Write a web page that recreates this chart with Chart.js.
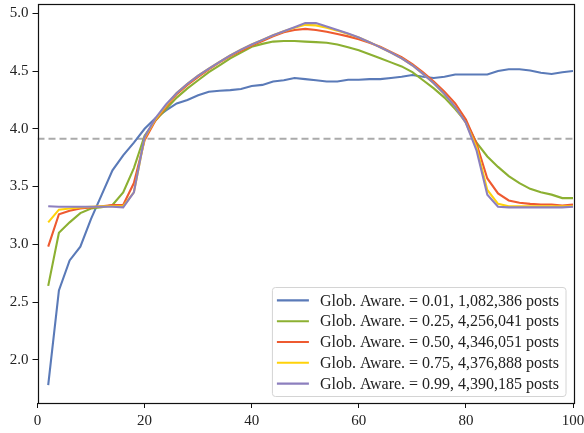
<!DOCTYPE html>
<html>
<head>
<meta charset="utf-8">
<script src="https://cdn.jsdelivr.net/npm/chart.js@4/dist/chart.umd.min.js"></script>
<style>
  html, body { margin: 0; padding: 0; background: #fff; }
  #wrap { width: 584px; height: 433px; position: relative; }
</style>
</head>
<body>
<div id="wrap"><canvas id="chart"></canvas></div>
<script>
// percent of thread (x)
const xs = [2,4,6,8,10,12,14,16,18,20,22,24,26,28,30,32,34,36,38,40,42,44,46,48,50,
            52,54,56,58,60,62,64,66,68,70,72,74,76,78,80,82,84,86,88,90,92,94,96,98,100]

const aware001 = [1.78,2.60,2.86,2.98,3.22,3.43,3.64,3.77,3.88,4.00,
                  4.09,4.16,4.22,4.25,4.29,4.32,4.33,4.335,4.345,4.37,
                  4.38,4.41,4.42,4.44,4.43,4.42,4.41,4.41,4.425,4.425,
                  4.43,4.43,4.44,4.45,4.465,4.45,4.44,4.45,4.47,4.47,
                  4.47,4.47,4.50,4.515,4.515,4.505,4.485,4.475,4.49,4.50]
const aware025 = [2.64,3.10,3.19,3.27,3.31,3.32,3.34,3.45,3.66,3.94,
                  4.07,4.17,4.27,4.35,4.42,4.49,4.55,4.61,4.66,4.71,
                  4.735,4.755,4.76,4.76,4.755,4.75,4.745,4.73,4.705,4.68,
                  4.645,4.61,4.575,4.54,4.49,4.42,4.35,4.27,4.17,4.06,
                  3.88,3.76,3.67,3.59,3.53,3.48,3.45,3.43,3.40,3.40]
const aware050 = [2.98,3.26,3.29,3.31,3.32,3.33,3.34,3.34,3.53,3.90,
                  4.07,4.19,4.30,4.38,4.45,4.515,4.575,4.63,4.675,4.72,
                  4.76,4.80,4.835,4.855,4.865,4.855,4.84,4.82,4.80,4.775,
                  4.745,4.71,4.665,4.62,4.56,4.49,4.41,4.32,4.22,4.08,
                  3.87,3.57,3.44,3.38,3.36,3.35,3.345,3.345,3.335,3.345]
const aware075 = [3.19,3.30,3.31,3.32,3.325,3.33,3.33,3.33,3.45,3.92,
                  4.08,4.20,4.31,4.39,4.46,4.52,4.58,4.635,4.685,4.73,
                  4.77,4.81,4.845,4.875,4.90,4.895,4.875,4.85,4.82,4.79,
                  4.75,4.705,4.66,4.61,4.55,4.475,4.395,4.30,4.19,4.05,
                  3.84,3.47,3.35,3.33,3.33,3.33,3.33,3.33,3.33,3.33]
const aware099 = [3.33,3.325,3.325,3.325,3.325,3.325,3.325,3.32,3.45,3.93,
                  4.09,4.21,4.31,4.39,4.46,4.52,4.58,4.635,4.685,4.73,
                  4.77,4.81,4.845,4.88,4.915,4.915,4.885,4.855,4.825,4.79,
                  4.75,4.705,4.66,4.61,4.55,4.475,4.395,4.30,4.19,4.05,
                  3.81,3.43,3.325,3.32,3.32,3.32,3.32,3.32,3.32,3.325]

// horizontal reference line
const refX = [0, 100]
const refY = [3.913, 3.913]

const labels = [
  'Glob. Aware. = 0.01, 1,082,386 posts',
  'Glob. Aware. = 0.25, 4,256,041 posts',
  'Glob. Aware. = 0.50, 4,346,051 posts',
  'Glob. Aware. = 0.75, 4,376,888 posts',
  'Glob. Aware. = 0.99, 4,390,185 posts'
]
const colors = ['#5a7ab8', '#8cb032', '#ee5a30', '#ffd20a', '#8c7fbe']
const series = [aware001, aware025, aware050, aware075, aware099]

const xTicks = [0, 20, 40, 60, 80, 100]
const yTicks = [2.0, 2.5, 3.0, 3.5, 4.0, 4.5, 5.0]

const FONT = "'Liberation Serif', 'DejaVu Serif', serif"

const pts = (xv, yv) => xv.map((x, i) => ({ x, y: yv[i] }))

const datasets = series.map((s, i) => ({
  label: labels[i],
  data: pts(xs, s),
  borderColor: colors[i],
  borderWidth: 2.1,
  pointRadius: 0,
  tension: 0,
  fill: false,
  order: 5 - i
}))
datasets.push({
  label: '_ref',
  data: pts(refX, refY),
  borderColor: '#aaaaaa',
  borderWidth: 2,
  borderDash: [7, 4],
  pointRadius: 0,
  fill: false,
  order: 10
})

// frame round the plot area (matplotlib spines)
const framePlugin = {
  id: 'frame',
  afterDatasetsDraw(chart) {
    const { ctx, chartArea: a } = chart
    ctx.save()
    ctx.strokeStyle = '#111'
    ctx.lineWidth = 1.2
    ctx.strokeRect(Math.round(a.left) + 0.5, Math.round(a.top) + 0.5,
                   Math.round(a.right - a.left), Math.round(a.bottom - a.top))
    ctx.restore()
  }
}

// legend box inside the lower right corner
const legendPlugin = {
  id: 'boxLegend',
  afterDraw(chart) {
    const { ctx, chartArea: a } = chart
    const items = chart.data.datasets.filter(d => !d.label.startsWith('_'))
    ctx.save()
    ctx.font = '16px ' + FONT
    const tw = Math.max(...items.map(d => ctx.measureText(d.label).width))
    const rowH = 20.8
    const w = 4.5 + 32 + 11 + tw + 7
    const h = items.length * rowH + 5
    const right = a.right - 7, bottom = a.bottom - 6.5
    const left = right - w, top = bottom - h
    ctx.beginPath()
    ctx.roundRect(left, top, w, h, 3)
    ctx.fillStyle = 'rgba(255,255,255,0.85)'
    ctx.fill()
    ctx.strokeStyle = '#d4d4d4'
    ctx.lineWidth = 1
    ctx.stroke()
    ctx.textBaseline = 'middle'
    ctx.fillStyle = '#222'
    items.forEach((d, i) => {
      const cy = top + 2.5 + rowH * (i + 0.5)
      ctx.beginPath()
      ctx.strokeStyle = d.borderColor
      ctx.lineWidth = 2.1
      ctx.moveTo(left + 4.5, cy)
      ctx.lineTo(left + 36.5, cy)
      ctx.stroke()
      ctx.fillText(d.label, left + 47.5, cy + 1)
    })
    ctx.restore()
  }
}

new Chart(document.getElementById('chart'), {
  type: 'line',
  data: { datasets },
  options: {
    responsive: true,
    maintainAspectRatio: false,
    animation: false,
    layout: { padding: { top: 3.7, right: 0, left: 0, bottom: 0 } },
    plugins: { legend: { display: false }, tooltip: { enabled: false } },
    scales: {
      x: {
        type: 'linear',
        min: 0, max: 100,
        afterBuildTicks: s => { s.ticks = xTicks.map(v => ({ value: v })) },
        afterFit: s => { s.height = 30; s.paddingRight = 11; s.paddingLeft = 0 },
        grid: { drawOnChartArea: false, drawTicks: true, tickLength: 5, color: '#111' },
        border: { display: false },
        ticks: { color: '#222', padding: 4, font: { family: FONT, size: 15 }, maxRotation: 0 }
      },
      y: {
        type: 'linear',
        min: 1.626, max: 5.083,
        afterBuildTicks: s => { s.ticks = yTicks.map(v => ({ value: v })) },
        afterFit: s => { s.width = 37.5; s.paddingTop = 0; s.paddingBottom = 0 },
        grid: { drawOnChartArea: false, drawTicks: true, tickLength: 5, color: '#111' },
        border: { display: false },
        ticks: { color: '#222', padding: 4, font: { family: FONT, size: 15 },
                 callback: v => v.toFixed(1) }
      }
    }
  },
  plugins: [framePlugin, legendPlugin]
})
</script>
</body>
</html>
